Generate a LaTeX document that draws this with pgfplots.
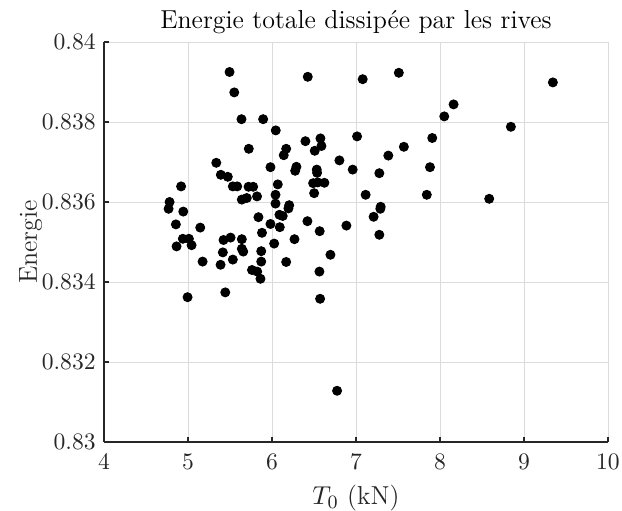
\documentclass[border=0pt]{standalone}
\usepackage{pgfplots}
\pgfplotsset{compat=1.18}
\definecolor{axc}{RGB}{38,38,38}
\begin{document}
\begin{tikzpicture}
\begin{axis}[
  scale only axis,
  width=213.6pt, height=169.5pt,
  xmin=4, xmax=10, ymin=0.83, ymax=0.84,
  axis x line*=bottom, axis y line*=left,
  axis line style={axc, line width=0.5pt},
  xtick={4,5,6,7,8,9,10},
  ytick={0.83,0.832,0.834,0.836,0.838,0.84},
  yticklabels={0.83,0.832,0.834,0.836,0.838,0.84},
  scaled y ticks=false,
  tick align=inside,
  major tick length=2.2pt,
  tick style={axc, line width=0.5pt},
  grid=major,
  major grid style={black!14, line width=0.4pt},
  ticklabel style={font=\normalsize, text=axc},
  xticklabel style={yshift=-1.5pt},
  title={Energie totale dissip\'ee par les rives},
  title style={font=\fontsize{11}{13}\selectfont, text=black, yshift=-6pt},
  xlabel={$T_0$ (kN)},
  ylabel={Energie},
  label style={font=\fontsize{11}{13}\selectfont, text=axc},
  ylabel style={yshift=-7pt},
  clip=false,
]
\addplot[only marks, mark=*, mark size=1.9pt, black] coordinates {
(5.495,0.83925) (5.551,0.83874) (5.637,0.83807) (5.895,0.83807) (5.724,0.83733)
(5.337,0.83698) (5.982,0.83687) (5.391,0.83668) (5.474,0.83663) (4.918,0.83639)
(5.534,0.83639) (5.586,0.83639) (5.721,0.83638) (5.776,0.83638) (4.781,0.83600)
(4.769,0.83583) (4.944,0.83576) (5.641,0.83606) (5.700,0.83610) (5.822,0.83614)
(5.839,0.83562) (5.982,0.83545) (4.856,0.83544) (5.146,0.83536) (5.881,0.83523)
(4.939,0.83508) (5.011,0.83508) (5.423,0.83505) (5.507,0.83511) (5.641,0.83507)
(4.864,0.83489) (5.043,0.83492) (5.415,0.83474) (5.641,0.83483) (5.658,0.83476)
(5.872,0.83477) (5.534,0.83456) (5.174,0.83451) (5.872,0.83451) (5.388,0.83443)
(5.762,0.83430) (5.824,0.83426) (5.863,0.83408) (4.995,0.83362) (5.444,0.83374)
(6.426,0.83913) (7.080,0.83907) (7.510,0.83923) (8.051,0.83814) (6.045,0.83779)
(7.013,0.83764) (7.908,0.83760) (6.398,0.83752) (6.577,0.83759) (6.589,0.83740)
(6.509,0.83728) (6.169,0.83733) (6.140,0.83717) (7.570,0.83738) (7.385,0.83716)
(6.803,0.83704) (6.291,0.83688) (6.276,0.83678) (6.533,0.83681) (6.537,0.83673)
(6.961,0.83681) (7.278,0.83672) (7.881,0.83687) (6.069,0.83644) (6.490,0.83647)
(6.545,0.83649) (6.624,0.83648) (6.042,0.83618) (6.502,0.83622) (7.115,0.83618)
(7.843,0.83618) (6.042,0.83596) (6.205,0.83592) (6.196,0.83584) (7.294,0.83588)
(7.290,0.83583) (6.089,0.83568) (6.128,0.83565) (7.210,0.83563) (6.422,0.83552)
(6.093,0.83537) (6.886,0.83541) (6.568,0.83527) (7.278,0.83518) (6.268,0.83507)
(6.026,0.83496) (6.696,0.83468) (6.169,0.83450) (6.565,0.83426) (6.573,0.83358)
(6.775,0.83128) (9.344,0.83899) (8.162,0.83844) (8.844,0.83788) (8.586,0.83608)
};
\coordinate (bl) at (rel axis cs:-0.2063,-0.1725);
\coordinate (tr) at (rel axis cs:1.0278,1.105);
\end{axis}
\pgfresetboundingbox
\path[use as bounding box] (bl) rectangle (tr);
\end{tikzpicture}
\end{document}
